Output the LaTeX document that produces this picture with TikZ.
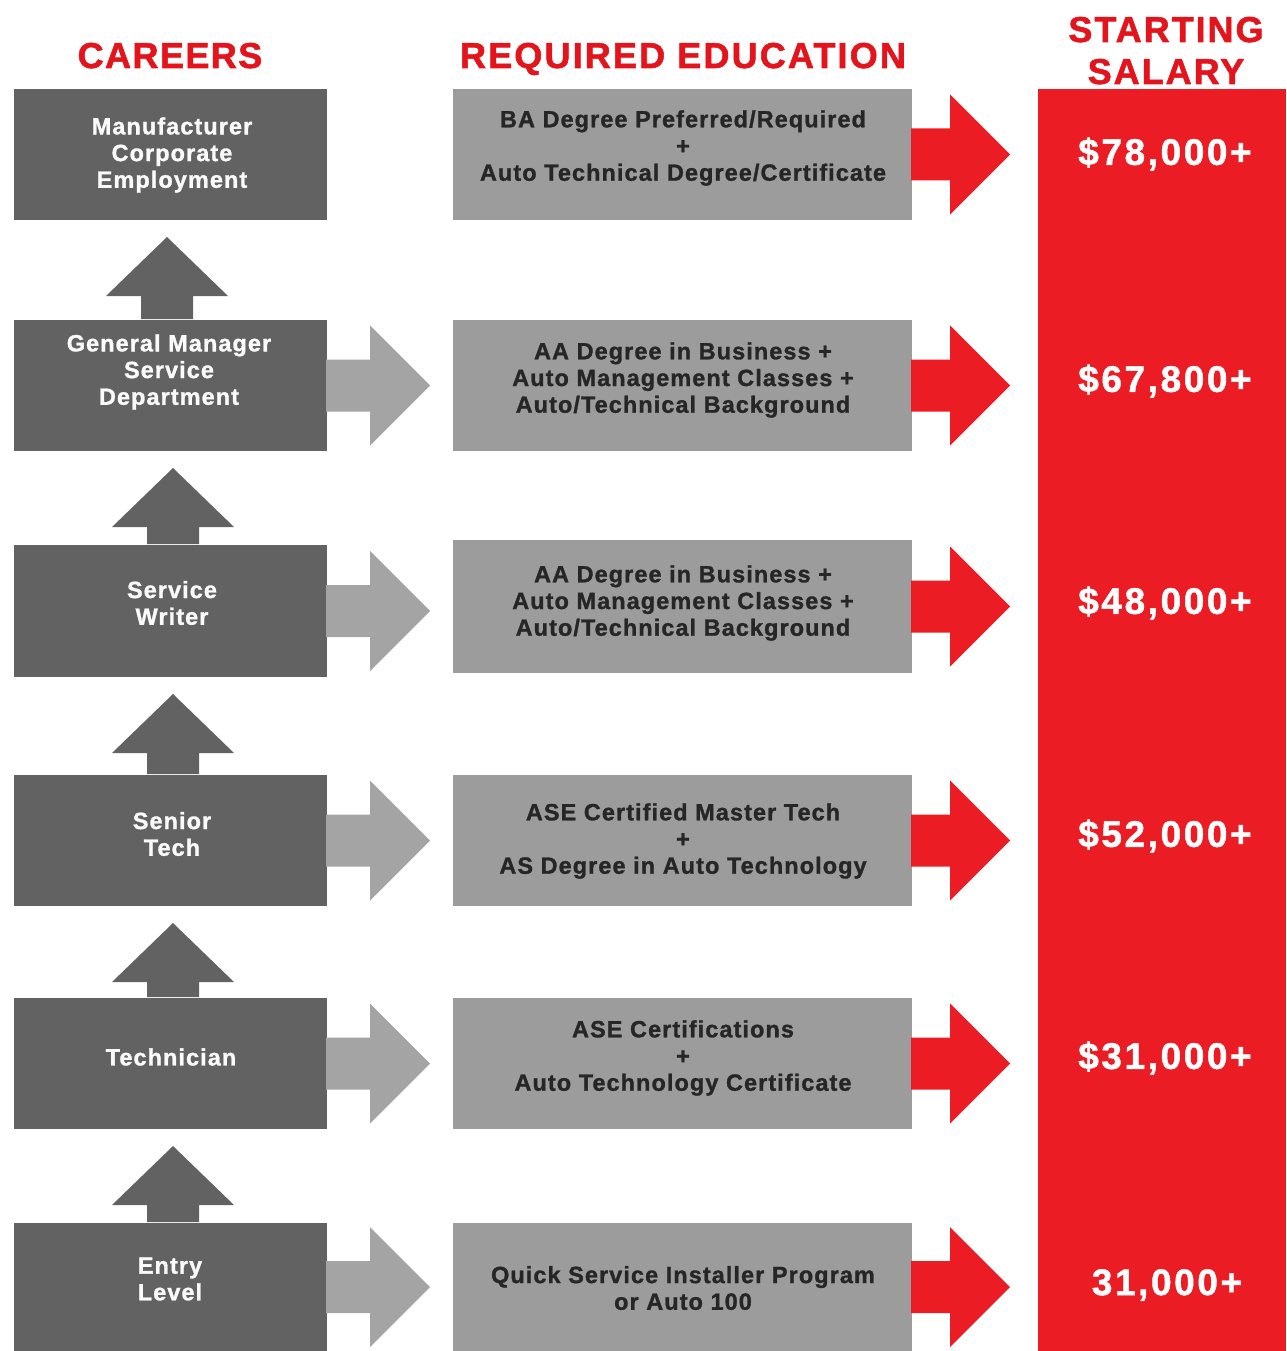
\documentclass[tikz,border=0pt]{standalone}
\usepackage{fontspec}
\setmainfont{Liberation Sans}[LetterSpace=4.5, BoldFeatures={FakeBold=1.2}]
\newfontfamily\hdA{Liberation Sans Bold}[LetterSpace=4, FakeBold=1.5]
\newfontfamily\hdB{Liberation Sans Bold}[LetterSpace=6, FakeBold=1.5]
\newfontfamily\hdC{Liberation Sans Bold}[LetterSpace=5.5, FakeBold=1.5]
\newfontfamily\salfont{Liberation Sans Bold}[LetterSpace=7, FakeBold=1.2]
\usetikzlibrary{calc}
\definecolor{darkg}{HTML}{626262}
\definecolor{lightg}{HTML}{9C9C9C}
\definecolor{arrg}{HTML}{A4A4A4}
\definecolor{redc}{HTML}{EC1C24}
\definecolor{headred}{HTML}{E4141C}
\definecolor{edutext}{HTML}{262626}
\tikzset{
  careerbox/.style={fill=darkg, minimum width=313pt, inner sep=0pt, outer sep=0pt},
  edubox/.style={fill=lightg, minimum width=459pt, inner sep=0pt, outer sep=0pt},
  careertext/.style={text=white!96!gray, align=center, inner sep=0pt, font=\fontsize{23.5}{26.7}\selectfont\bfseries},
  edutext/.style={text=edutext, align=center, inner sep=0pt, font=\fontsize{23.5}{26.7}\selectfont\bfseries},
  saltext/.style={text=white, inner sep=0pt, font=\salfont\fontsize{37}{40}\selectfont},
  header/.style={text=headred, anchor=base, inner sep=0pt},
}
\newcommand\uparr[3]{%
  \fill[darkg] let \p1=($(#1.north)+(#3,0)$), \p2=(#2.south) in
   (\x1-26pt,\y1+1pt) -- (\x1-26pt,\y2-76pt) -- (\x1-61pt,\y2-76pt) -- (\x1,\y2-17pt)
   -- (\x1+61pt,\y2-76pt) -- (\x1+26pt,\y2-76pt) -- (\x1+26pt,\y1+1pt) -- cycle;}
\newcommand\rarr[3]{%
  \fill[#1] let \p1=(#2.east) in
   (\x1-1pt,\y1+26pt) -- (\x1+#3pt,\y1+26pt) -- (\x1+#3pt,\y1+60pt) -- (\x1+#3pt+60pt,\y1)
   -- (\x1+#3pt,\y1-60pt) -- (\x1+#3pt,\y1-26pt) -- (\x1-1pt,\y1-26pt) -- cycle;}
\begin{document}
\begin{tikzpicture}[x=1pt,y=-1pt]
\useasboundingbox (0,0) rectangle (1286,1351);
\fill[white] (0,0) rectangle (1286,1351);

% headers
\node[header, font=\hdA\fontsize{36}{40}\selectfont] (hcar) at (170,68) {CAREERS};
\node[header, font=\hdB\fontsize{36}{40}\selectfont] (hedu) at (683,68) {REQUIRED EDUCATION};
\node[header, font=\hdC\fontsize{36}{40}\selectfont] (hsal1) at (1166,42) {STARTING};
\node[header, font=\hdC\fontsize{36}{40}\selectfont] (hsal2) at (1166,84) {SALARY};

% salary column
\node[fill=redc, minimum width=248pt, minimum height=1262pt, inner sep=0pt, outer sep=0pt] (salcol) at (1162,720) {};

% career boxes
\node[careerbox, minimum height=131pt] (c1) at (170.5,154.5) {};
\node[careerbox, minimum height=131pt] (c2) at (170.5,385.5) {};
\node[careerbox, minimum height=132pt] (c3) at (170.5,611) {};
\node[careerbox, minimum height=131pt] (c4) at (170.5,840.5) {};
\node[careerbox, minimum height=131pt] (c5) at (170.5,1063.5) {};
\node[careerbox, minimum height=128pt] (c6) at (170.5,1287) {};

% education boxes
\node[edubox, minimum height=131pt] (e1) at (682.5,154.5) {};
\node[edubox, minimum height=131pt] (e2) at (682.5,385.5) {};
\node[edubox, minimum height=133pt] (e3) at (682.5,606.5) {};
\node[edubox, minimum height=131pt] (e4) at (682.5,840.5) {};
\node[edubox, minimum height=131pt] (e5) at (682.5,1063.5) {};
\node[edubox, minimum height=128pt] (e6) at (682.5,1287) {};

% up arrows
\uparr{c2}{c1}{-3.5}
\uparr{c3}{c2}{2.5}
\uparr{c4}{c3}{2.5}
\uparr{c5}{c4}{2.5}
\uparr{c6}{c5}{2.5}

% gray arrows career -> education
\rarr{arrg}{c2}{43}
\rarr{arrg}{c3}{43}
\rarr{arrg}{c4}{43}
\rarr{arrg}{c5}{43}
\rarr{arrg}{c6}{43}

% red arrows education -> salary
\rarr{redc}{e1}{38}
\rarr{redc}{e2}{38}
\rarr{redc}{e3}{38}
\rarr{redc}{e4}{38}
\rarr{redc}{e5}{38}
\rarr{redc}{e6}{38}

% career texts
\node[careertext] (ct1) at (172,155) {Manufacturer\\Corporate\\Employment};
\node[careertext] (ct2) at (169,372) {General Manager\\Service\\Department};
\node[careertext] (ct3) at (172,603) {Service\\Writer};
\node[careertext] (ct4) at (172,834) {Senior\\Tech};
\node[careertext] (ct5) at (171,1057) {Technician};
\node[careertext] (ct6) at (170,1279) {Entry\\Level};

% education texts
\node[edutext] (et1) at (683,148) {BA Degree Preferred/Required\\+\\Auto Technical Degree/Certificate};
\node[edutext] (et2) at (683,380) {AA Degree in Business +\\Auto Management Classes +\\Auto/Technical Background};
\node[edutext] (et3) at (683,603) {AA Degree in Business +\\Auto Management Classes +\\Auto/Technical Background};
\node[edutext] (et4) at (683,841) {ASE Certified Master Tech\\+\\AS Degree in Auto Technology};
\node[edutext] (et5) at (683,1058) {ASE Certifications\\+\\Auto Technology Certificate};
\node[edutext] (et6) at (683,1288) {Quick Service Installer Program\\or Auto 100};

% salary texts
\node[saltext] (s1) at (1165,154) {\$78,000+};
\node[saltext] (s2) at (1165,381) {\$67,800+};
\node[saltext] (s3) at (1165,603) {\$48,000+};
\node[saltext] (s4) at (1165,836) {\$52,000+};
\node[saltext] (s5) at (1165,1058) {\$31,000+};
\node[saltext] (s6) at (1167,1285) {31,000+};
\end{tikzpicture}
\end{document}
